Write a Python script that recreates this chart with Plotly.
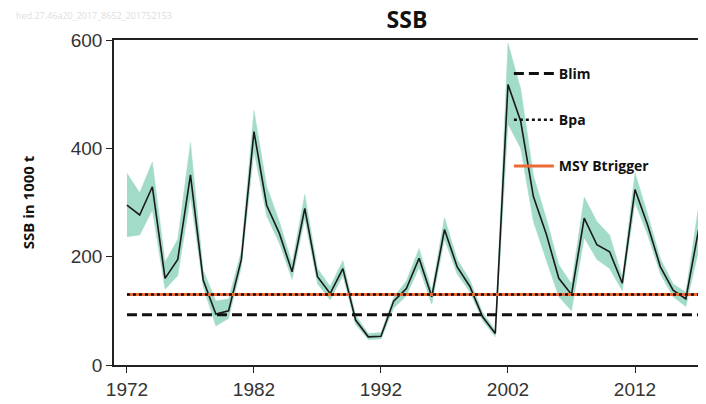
import plotly.graph_objects as go

years = list(range(1972, 2018))

ssb = [295, 277, 329, 160, 195, 351, 157, 94, 100, 194,
       431, 295, 243, 172, 289, 163, 132, 178, 83, 52,
       53, 118, 141, 197, 126, 250, 181, 145, 89, 58,
       518, 450, 311, 243, 160, 130, 271, 222, 209, 151,
       324, 258, 181, 138, 122, 249]

ssb_low = [237, 240, 286, 140, 165, 311, 145, 72, 86, 180,
           395, 275, 225, 158, 270, 150, 120, 165, 75, 47,
           48, 105, 128, 180, 112, 232, 168, 135, 82, 52,
           445, 400, 265, 195, 126, 100, 235, 195, 178, 137,
           300, 240, 168, 126, 108, 210]

ssb_high = [354, 318, 375, 190, 232, 411, 175, 118, 122, 210,
            470, 330, 265, 188, 315, 178, 145, 193, 92, 58,
            60, 125, 155, 215, 138, 272, 195, 157, 97, 64,
            594, 510, 350, 272, 185, 150, 310, 265, 240, 162,
            355, 278, 196, 150, 134, 292]

blim = 93
bpa = 130
msy_btrigger = 130

ref_x = [1972, 2017]

# the page body keeps its default 8px margin, so the figure is 8px smaller
W, H = 698, 396

fig = go.Figure()

# confidence band
fig.add_trace(
    go.Scatter(
        x=years + years[::-1],
        y=ssb_high + ssb_low[::-1],
        fill="toself",
        fillcolor="#a3dbc9",
        line=dict(color="#a3dbc9", width=0.5),
        mode="lines",
        hoverinfo="skip",
        showlegend=False,
    )
)

fig.add_trace(
    go.Scatter(
        x=years,
        y=ssb,
        mode="lines",
        line=dict(color="#1a1a1a", width=1.6),
        name="SSB",
        showlegend=False,
    )
)

fig.add_trace(
    go.Scatter(
        x=ref_x,
        y=[blim, blim],
        mode="lines",
        line=dict(color="#111111", width=3, dash="10px,5px"),
        name="Blim",
        legendgroup="a",
        legendrank=1,
    )
)

fig.add_trace(
    go.Scatter(
        x=ref_x,
        y=[msy_btrigger, msy_btrigger],
        mode="lines",
        line=dict(color="#ec6a35", width=3),
        name="MSY Btrigger",
        legendgroup="c",
        legendrank=3,
    )
)

fig.add_trace(
    go.Scatter(
        x=ref_x,
        y=[bpa, bpa],
        mode="lines",
        line=dict(color="#111111", width=2.5, dash="dot"),
        name="Bpa",
        legendgroup="b",
        legendrank=2,
    )
)

fig.update_layout(
    width=W,
    height=H,
    margin=dict(l=106, r=0, t=32, b=39),
    paper_bgcolor="white",
    plot_bgcolor="white",
    title=dict(
        text="<b>SSB</b>",
        font=dict(family="Open Sans", size=23, color="#111111"),
        x=399 / W,
        xanchor="center",
        y=1 - 4 / H,
        yanchor="top",
        xref="container",
        yref="container",
        pad=dict(t=0, b=0),
    ),
    legend=dict(
        x=0.667,
        y=0.945,
        xanchor="left",
        yanchor="top",
        bgcolor="rgba(0,0,0,0)",
        font=dict(family="Open Sans", size=14, color="#111111", weight="bold"),
        tracegroupgap=25,
        itemwidth=40,
        traceorder="grouped",
    ),
    xaxis=dict(
        range=[1970.98, 2017.59],
        tickvals=[1972, 1982, 1992, 2002, 2012],
        showgrid=False,
        zeroline=False,
        showline=True,
        linecolor="#222222",
        linewidth=1.5,
        mirror=True,
        ticks="outside",
        ticklen=6,
        tickcolor="#222222",
        tickfont=dict(family="Liberation Sans", size=19, color="#333333"),
    ),
    yaxis=dict(
        range=[0, 600],
        tickvals=[0, 200, 400, 600],
        showgrid=False,
        zeroline=False,
        showline=True,
        linecolor="#222222",
        linewidth=1.5,
        ticks="outside",
        ticklen=6,
        tickcolor="#222222",
        tickfont=dict(family="Liberation Sans", size=19, color="#333333"),
        title=dict(
            text="<b>SSB in 1000 t</b>",
            font=dict(family="Open Sans", size=15, color="#111111"),
            standoff=32,
        ),
    ),
)

fig.add_annotation(
    text="hed.27.46a20_2017_8652_201752153",
    xref="paper",
    yref="paper",
    x=-100 / 592,
    y=1 + 24 / 325,
    xanchor="left",
    yanchor="middle",
    showarrow=False,
    font=dict(family="Open Sans", size=9, color="#dddddd"),
)

fig.write_html("out.html")
